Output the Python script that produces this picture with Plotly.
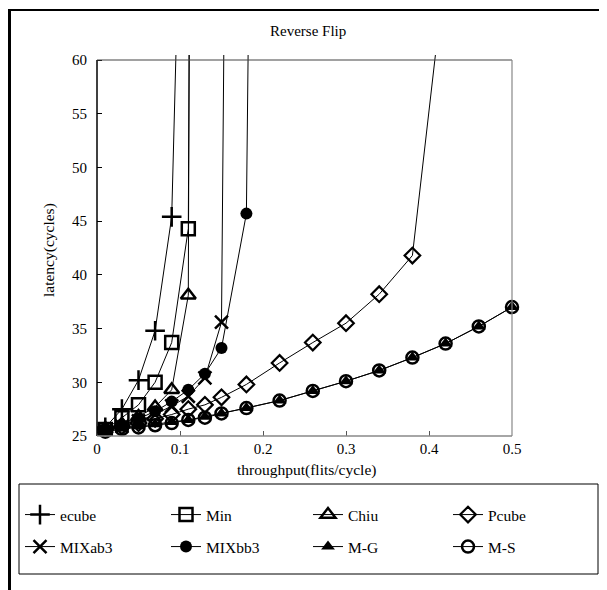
import plotly.graph_objects as go

# ---------------- data ----------------
x_ecube = [0.01, 0.03, 0.05, 0.07, 0.09, 0.10]
y_ecube = [25.8, 27.5, 30.2, 34.8, 45.4, 75.0]

x_min = [0.01, 0.03, 0.05, 0.07, 0.09, 0.11, 0.112]
y_min = [25.6, 26.7, 27.9, 30.0, 33.7, 44.3, 76.0]

x_chiu = [0.01, 0.03, 0.05, 0.07, 0.09, 0.11, 0.112]
y_chiu = [25.6, 26.1, 26.8, 27.7, 29.3, 38.1, 82.0]

x_pcube = [0.01, 0.03, 0.05, 0.07, 0.09, 0.11, 0.13, 0.15, 0.18, 0.22, 0.26, 0.30, 0.34, 0.38, 0.41]
y_pcube = [25.6, 25.9, 26.2, 26.6, 27.0, 27.5, 27.9, 28.6, 29.8, 31.8, 33.7, 35.5, 38.2, 41.8, 62.0]

x_mixab3 = [0.01, 0.03, 0.05, 0.07, 0.09, 0.11, 0.13, 0.15, 0.155]
y_mixab3 = [25.5, 25.9, 26.4, 27.0, 27.8, 28.7, 30.4, 35.6, 81.0]

x_mixbb3 = [0.01, 0.03, 0.05, 0.07, 0.09, 0.11, 0.13, 0.15, 0.18, 0.185]
y_mixbb3 = [25.6, 26.0, 26.6, 27.3, 28.2, 29.3, 30.8, 33.2, 45.7, 81.5]

x_mg = [0.01, 0.03, 0.05, 0.07, 0.09, 0.11, 0.13, 0.15, 0.18, 0.22, 0.26, 0.30, 0.34, 0.38, 0.42, 0.46, 0.50]
y_mg = [25.4, 25.7, 25.9, 26.1, 26.3, 26.5, 26.8, 27.1, 27.6, 28.3, 29.2, 30.1, 31.1, 32.3, 33.6, 35.2, 37.0]

x_ms = [0.01, 0.03, 0.05, 0.07, 0.09, 0.11, 0.13, 0.15, 0.18, 0.22, 0.26, 0.30, 0.34, 0.38, 0.42, 0.46, 0.50]
y_ms = [25.4, 25.65, 25.8, 26.0, 26.2, 26.5, 26.7, 27.1, 27.6, 28.3, 29.2, 30.1, 31.1, 32.3, 33.6, 35.2, 37.0]

x_ticks = [0, 0.1, 0.2, 0.3, 0.4, 0.5]
y_ticks = [25, 30, 35, 40, 45, 50, 55, 60]

title_text = "Reverse Flip"
x_title = "throughput(flits/cycle)"
y_title = "latency(cycles)"

# ---------------- layout geometry ----------------
W, H = 607, 590
L = 89                 # y-axis pixel
XR = 504               # x = 0.5 pixel
Y60, Y25 = 52, 428     # pixel rows of y=60 and y=25
T = Y60 - 5
B = H - Y25
R = W - XR
PW, PH = W - L - R, H - T - B
Y0, Y1 = 25, 60
ytop = Y0 + PH * (Y1 - Y0) / float(Y25 - Y60)

def px(xp):
    return (xp - L) / PW

def py(yp):
    return (H - B - yp) / PH

FONT = "Liberation Serif, Times New Roman, serif"
FS_TICK = 15
FS_AXT = 15.5
FS_TITLE = 15
FS_LEG = 15.5

series = [
    ("ecube", x_ecube, y_ecube, dict(symbol="cross-thin", size=14, color="black", line=dict(width=2.5, color="black"))),
    ("Min", x_min, y_min, dict(symbol="square-open", size=13, color="black", line=dict(width=2.5, color="black"))),
    ("Chiu", x_chiu, y_chiu, dict(symbol="triangle-up-open", size=13, color="black", line=dict(width=2.5, color="black"))),
    ("Pcube", x_pcube, y_pcube, dict(symbol="diamond-open", size=12, color="black", line=dict(width=2.2, color="black"))),
    ("MIXab3", x_mixab3, y_mixab3, dict(symbol="x-thin", size=13, color="black", line=dict(width=2.5, color="black"))),
    ("MIXbb3", x_mixbb3, y_mixbb3, dict(symbol="circle", size=12, color="black", line=dict(width=0))),
    ("M-G", x_mg, y_mg, dict(symbol="triangle-up", size=12, color="black", line=dict(width=0))),
    ("M-S", x_ms, y_ms, dict(symbol="circle-open", size=12, color="black", line=dict(width=2.5, color="black"))),
]

legend_x = [12, 158, 300, 440]
legend_y = [507, 539]

fig = go.Figure()
legend_layouts = {}
for i, (name, xs, ys, mk) in enumerate(series):
    lname = "legend" if i == 0 else f"legend{i+1}"
    fig.add_trace(go.Scatter(
        x=xs, y=ys, name=name, mode="lines+markers",
        line=dict(color="black", width=1),
        marker=mk, cliponaxis=False if name in ("M-S", "M-G") else True,
        legend=lname, showlegend=True,
    ))
    r, c = divmod(i, 4)
    legend_layouts[lname] = dict(
        x=px(legend_x[c]), y=py(legend_y[r]), xanchor="left", yanchor="middle",
        bgcolor="rgba(0,0,0,0)", borderwidth=0,
        font=dict(family=FONT, size=FS_LEG, color="black"),
    )

shapes = [
    # plot area borders
    dict(type="line", xref="paper", yref="paper", x0=0, x1=0, y0=0, y1=py(Y60), line=dict(color="black", width=1.5)),
    dict(type="line", xref="paper", yref="paper", x0=0, x1=1, y0=0, y1=0, line=dict(color="#888888", width=1.5)),
    dict(type="line", xref="paper", yref="paper", x0=0, x1=1, y0=py(Y60), y1=py(Y60), line=dict(color="#444444", width=1.2)),
    dict(type="line", xref="paper", yref="paper", x0=1, x1=1, y0=0, y1=py(Y60), line=dict(color="#888888", width=1.2)),
    # legend box
    dict(type="rect", xref="paper", yref="paper", x0=px(11), x1=px(590), y0=py(566), y1=py(476),
         line=dict(color="black", width=1), fillcolor="rgba(0,0,0,0)"),
    # chart frame
    dict(type="line", xref="paper", yref="paper", x0=px(1.5), x1=px(1.5), y0=py(583), y1=py(1), line=dict(color="black", width=3)),
    dict(type="line", xref="paper", yref="paper", x0=px(1.5), x1=px(604), y0=py(2), y1=py(2), line=dict(color="black", width=2)),
    dict(type="line", xref="paper", yref="paper", x0=px(604), x1=px(604), y0=py(583), y1=py(2), line=dict(color="#666666", width=1.5)),
    dict(type="line", xref="paper", yref="paper", x0=px(1.5), x1=px(604), y0=py(583), y1=py(583), line=dict(color="#999999", width=1.5)),
]

annotations = [
    dict(text=title_text, xref="paper", yref="paper", x=px(300), y=py(23), showarrow=False,
         xanchor="center", yanchor="middle", font=dict(family=FONT, size=FS_TITLE, color="black")),
    dict(text=x_title, xref="paper", yref="paper", x=px(298), y=py(462), showarrow=False,
         xanchor="center", yanchor="middle", font=dict(family=FONT, size=FS_AXT, color="black")),
    dict(text=y_title, xref="paper", yref="paper", x=px(41), y=py(242), showarrow=False, textangle=-90,
         xanchor="center", yanchor="middle", font=dict(family=FONT, size=FS_AXT, color="black")),
]

fig.update_layout(
    width=W, height=H,
    margin=dict(l=L, r=R, t=T, b=B, autoexpand=False),
    paper_bgcolor="white", plot_bgcolor="white",
    font=dict(family=FONT, size=FS_TICK, color="black"),
    showlegend=True,
    shapes=shapes, annotations=annotations,
    xaxis=dict(range=[0, 0.5], tickvals=x_ticks, ticks="inside", ticklen=5, tickcolor="#555555",
               showgrid=False, zeroline=False, showline=False, ticklabelstandoff=2,
               tickfont=dict(family=FONT, size=FS_TICK, color="black")),
    yaxis=dict(range=[Y0, ytop], tickvals=y_ticks, ticks="inside", ticklen=5, tickcolor="black",
               showgrid=False, zeroline=False, showline=False, ticklabelstandoff=9,
               tickfont=dict(family=FONT, size=FS_TICK, color="black")),
    **legend_layouts,
)

fig.write_html("out.html")
